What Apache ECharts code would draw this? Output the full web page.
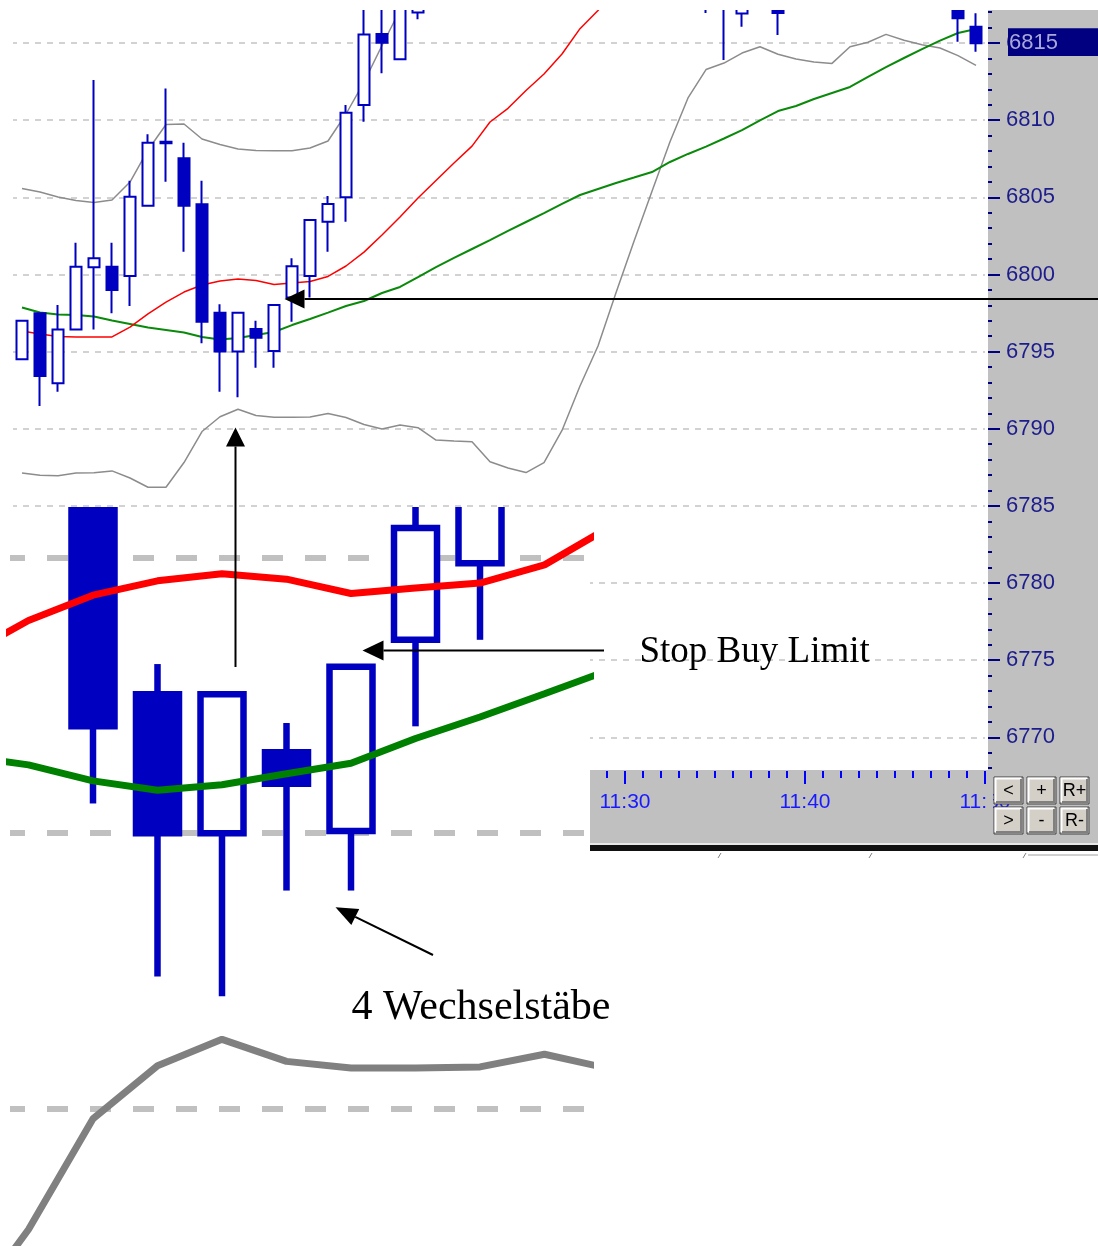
<!DOCTYPE html>
<html>
<head>
<meta charset="utf-8">
<title>Stop Buy Limit - 4 Wechselstäbe</title>
<script src="https://cdn.jsdelivr.net/npm/echarts@6.0.0/dist/echarts.min.js"></script>
<style>
  html, body { margin: 0; padding: 0; background: #ffffff; }
  #chart { width: 1098px; height: 1246px; }
</style>
</head>
<body>
<div id="chart"></div>
<script>
// one-minute bars, named by their closing time
var times = ['10:57', '10:58', '10:59', '11:00', '11:01', '11:02', '11:03', '11:04', '11:05', '11:06',
  '11:07', '11:08', '11:09', '11:10', '11:11', '11:12', '11:13', '11:14', '11:15', '11:16',
  '11:17', '11:18', '11:19', '11:20', '11:21', '11:22', '11:23', '11:24', '11:25', '11:26',
  '11:27', '11:28', '11:29', '11:30', '11:31', '11:32', '11:33', '11:34', '11:35', '11:36',
  '11:37', '11:38', '11:39', '11:40', '11:41', '11:42', '11:43', '11:44', '11:45', '11:46',
  '11:47', '11:48', '11:49', '11:50'];
var timeLabels = ['11:30', '11:40', '11:50'];
var priceLabels = [6770, 6775, 6780, 6785, 6790, 6795, 6800, 6805, 6810, 6815];
var zoomPriceLines = [6790, 6795, 6800];

// OHLC (null = bar lies above the visible price range)
var open = [6794.50, 6797.48, 6792.95, 6796.44, 6800.46, 6800.50, 6799.90, 6804.46, 6808.60, 6807.53,
  6804.55, 6797.52, 6795.00, 6796.47, 6795.04, 6798.51, 6799.90, 6803.42, 6805.00, 6810.98,
  6815.58, 6813.94, 6816.97, null, null, null, null, null, null, null,
  null, null, null, null, null, null, null, null, 6818.00, 6818.60,
  6816.92, null, 6819.00, null, null, null, null, null, null, null,
  null, null, 6818.50, 6816.06];
var close = [6797.00, 6793.42, 6796.44, 6800.50, 6801.05, 6798.99, 6805.04, 6808.54, 6808.50, 6804.46,
  6796.94, 6795.00, 6797.52, 6795.90, 6798.02, 6800.54, 6803.53, 6804.57, 6810.48, 6815.56,
  6815.02, 6818.00, 6819.00, null, null, null, null, null, null, null,
  null, null, null, null, null, null, null, null, 6819.00, 6819.60,
  6819.00, null, 6816.94, null, null, null, null, null, null, null,
  null, null, 6816.60, 6814.98];
var low = [6794.50, 6791.47, 6792.40, 6796.44, 6796.44, 6797.48, 6797.96, 6804.46, 6806.01, 6801.47,
  6795.54, 6792.40, 6792.04, 6793.96, 6793.96, 6796.94, 6798.51, 6801.47, 6803.42, 6809.90,
  6813.04, 6813.94, 6816.54, null, null, null, null, null, null, null,
  null, null, null, null, null, null, null, null, 6816.94, 6813.90,
  6816.06, null, 6815.52, null, null, null, null, null, null, null,
  null, null, 6815.08, 6814.44];
var high = [6797.00, 6797.48, 6798.02, 6802.06, 6812.60, 6802.06, 6806.08, 6809.08, 6812.06, 6808.54,
  6806.08, 6798.07, 6797.52, 6797.00, 6798.02, 6801.05, 6803.53, 6805.08, 6810.98, 6818.00,
  6818.00, 6818.50, 6819.50, null, null, null, null, null, null, null,
  null, null, null, null, null, null, null, null, 6819.50, 6820.00,
  6819.50, null, 6819.50, null, null, null, null, null, null, null,
  null, null, 6819.00, 6816.93];

// indicators
var maFast = [6796.34, 6796.14, 6795.98, 6795.95, 6795.95, 6795.95, 6796.59, 6797.44, 6798.21, 6798.86,
  6799.32, 6799.58, 6799.71, 6799.61, 6799.35, 6799.45, 6799.54, 6799.87, 6800.55, 6801.45,
  6802.56, 6803.72, 6804.95, 6806.09, 6807.22, 6808.32, 6809.88, 6810.77, 6811.92, 6812.99,
  6814.29, 6815.93, 6817.11, 6818.50, null, null, null, null, null, null,
  null, null, null, null, null, null, null, null, null, null,
  null, null, null, null];
var maSlow = [6797.86, 6797.53, 6797.40, 6797.37, 6797.27, 6797.02, 6796.79, 6796.56, 6796.40, 6796.24,
  6795.95, 6795.78, 6795.88, 6796.08, 6796.27, 6796.72, 6797.11, 6797.53, 6797.96, 6798.28,
  6798.80, 6799.19, 6799.83, 6800.48, 6801.07, 6801.65, 6802.23, 6802.82, 6803.40, 6803.98,
  6804.57, 6805.15, 6805.54, 6805.93, 6806.28, 6806.64, 6807.29, 6807.81, 6808.29, 6808.81,
  6809.36, 6809.98, 6810.59, 6810.92, 6811.37, 6811.76, 6812.15, 6812.80, 6813.44, 6814.03,
  6814.61, 6815.16, 6815.65, 6815.91];
var bandUp = [6805.57, 6805.34, 6805.02, 6804.79, 6804.66, 6804.83, 6805.99, 6808.07, 6809.72, 6809.75,
  6808.78, 6808.42, 6808.13, 6808.03, 6808.02, 6808.02, 6808.20, 6808.65, 6810.40, 6812.47,
  6814.84, 6817.14, 6819.40, null, null, null, null, null, null, null,
  null, null, null, null, null, null, null, null, null, null,
  null, null, null, null, null, null, null, null, null, null,
  null, null, null, null];
var bandLow = [6787.13, 6786.98, 6786.96, 6787.13, 6787.15, 6787.27, 6786.81, 6786.21, 6786.21, 6787.81,
  6789.82, 6790.78, 6791.26, 6790.86, 6790.74, 6790.74, 6790.76, 6790.99, 6790.73, 6790.28,
  6789.98, 6790.24, 6790.07, 6789.27, 6789.21, 6789.16, 6787.86, 6787.46, 6787.16, 6787.81,
  6789.89, 6792.77, 6795.36, 6798.81, 6802.15, 6805.40, 6808.60, 6811.44, 6813.28, 6813.70,
  6814.35, 6814.76, 6814.27, 6813.96, 6813.77, 6813.68, 6814.76, 6815.05, 6815.56, 6815.18,
  6814.89, 6814.68, 6814.18, 6813.55];

var buttonLabels = ['<', '+', 'R+', '>', '-', 'R-'];

var blue = '#0000c0';
var sans = '"Liberation Sans", Arial, sans-serif';
var serif = '"Liberation Serif", "Times New Roman", serif';

var candles = open.map(function (o, i) {
  return o === null ? ['-', '-', '-', '-'] : [o, close[i], low[i], high[i]];
});
// same values placed on a value x axis (bar index) for the magnified view
function onValueAxis(arr) {
  return arr.map(function (v, i) { return [i, v === null ? '-' : v]; });
}
var zoomCandles = candles.map(function (c, i) { return [i].concat(c); });

// magnified candles: custom series so the group is clipped to the zoom grid
function renderZoomCandle(params, api) {
  var k = api.value(0), o = api.value(1), c = api.value(2), l = api.value(3), h = api.value(4);
  if (isNaN(o)) return null;
  var x = api.coord([k, o])[0];
  var yO = api.coord([k, o])[1], yC = api.coord([k, c])[1];
  var yL = api.coord([k, l])[1], yH = api.coord([k, h])[1];
  var top = Math.min(yO, yC), bottom = Math.max(yO, yC), w = 43, lw = 6.5;
  return {
    type: 'group',
    children: [
      { type: 'line', shape: { x1: x, y1: yH, x2: x, y2: top }, style: { stroke: blue, lineWidth: lw } },
      { type: 'line', shape: { x1: x, y1: bottom, x2: x, y2: yL }, style: { stroke: blue, lineWidth: lw } },
      { type: 'rect', shape: { x: x - w / 2, y: top, width: w, height: bottom - top },
        style: { fill: c > o ? '#ffffff' : blue, stroke: blue, lineWidth: lw } }
    ]
  };
}

function arrow(x1, y1, x2, y2, head, half) {
  var dx = x2 - x1, dy = y2 - y1, len = Math.sqrt(dx * dx + dy * dy);
  var ux = dx / len, uy = dy / len;
  var bx = x2 - ux * head, by = y2 - uy * head;
  return [
    { type: 'line', z: 10, shape: { x1: x1, y1: y1, x2: bx, y2: by }, style: { stroke: '#000', lineWidth: 2 } },
    { type: 'polygon', z: 10, shape: { points: [[x2, y2], [bx - uy * half, by + ux * half], [bx + uy * half, by - ux * half]] },
      style: { fill: '#000' } }
  ];
}

function button(x, y, label) {
  var w = 29, h = 27;
  return [
    { type: 'rect', z: 10, shape: { x: x, y: y, width: w, height: h }, style: { fill: '#d4d0c8', stroke: '#404040', lineWidth: 1 } },
    { type: 'polyline', z: 11, shape: { points: [[x + 1.5, y + h - 2], [x + 1.5, y + 1.5], [x + w - 2, y + 1.5]] },
      style: { stroke: '#ffffff', lineWidth: 2, fill: null } },
    { type: 'polyline', z: 11, shape: { points: [[x + 2, y + h - 2], [x + w - 2, y + h - 2], [x + w - 2, y + 2]] },
      style: { stroke: '#808080', lineWidth: 2, fill: null } },
    { type: 'text', z: 12, style: { text: label, x: x + w / 2, y: y + h / 2 + 1, align: 'center', verticalAlign: 'middle',
      textAlign: 'center', textVerticalAlign: 'middle', font: '18px ' + sans, fill: '#000' } }
  ];
}

var graphics = [
  // program window: price scale and time scale panels
  { type: 'rect', z: 1, shape: { x: 988, y: 10, width: 110, height: 833 }, style: { fill: '#c0c0c0' } },
  { type: 'rect', z: 1, shape: { x: 590, y: 770, width: 508, height: 73 }, style: { fill: '#c0c0c0' } },
  { type: 'rect', z: 1, shape: { x: 590, y: 843, width: 508, height: 2 }, style: { fill: '#e8e8e8' } },
  { type: 'rect', z: 1, shape: { x: 590, y: 845, width: 508, height: 6 }, style: { fill: '#111111' } },
  { type: 'line', z: 1, shape: { x1: 1028, y1: 855, x2: 1098, y2: 855 }, style: { stroke: '#a0a0a0', lineWidth: 1 } },
  { type: 'line', z: 1, shape: { x1: 718, y1: 858, x2: 721, y2: 853 }, style: { stroke: '#808080', lineWidth: 1 } },
  { type: 'line', z: 1, shape: { x1: 869, y1: 858, x2: 872, y2: 853 }, style: { stroke: '#808080', lineWidth: 1 } },
  { type: 'line', z: 1, shape: { x1: 1023, y1: 858, x2: 1026, y2: 853 }, style: { stroke: '#808080', lineWidth: 1 } },
  { type: 'rect', z: 3, shape: { x: 987, y: 771, width: 6, height: 72 }, style: { fill: '#c0c0c0' } },
  // top margin of the screenshot (bars are cut there)
  { type: 'rect', z: 4, shape: { x: 0, y: 0, width: 1098, height: 10 }, style: { fill: '#ffffff' } },
  // white background of the magnified part
  { type: 'rect', z: 4, shape: { x: 0, y: 507, width: 590, height: 739 }, style: { fill: '#ffffff' } },
  // last price marker
  { type: 'rect', z: 10, shape: { x: 1008, y: 28.3, width: 90, height: 27.7 }, style: { fill: '#000080' } },
  { type: 'text', z: 11, style: { text: '6815', x: 1009, y: 42.5, align: 'left', verticalAlign: 'middle',
    textAlign: 'left', textVerticalAlign: 'middle', font: '22px ' + sans, fill: '#a8a8d8' } },
  // annotations
  { type: 'text', z: 10, style: { text: 'Stop Buy Limit', x: 639.5, y: 652.5, align: 'left', verticalAlign: 'middle',
    textAlign: 'left', textVerticalAlign: 'middle', font: '37px ' + serif, fill: '#000' } },
  { type: 'text', z: 10, style: { text: '4 Wechselstäbe', x: 351.5, y: 1007.5, align: 'left', verticalAlign: 'middle',
    textAlign: 'left', textVerticalAlign: 'middle', font: '42px ' + serif, fill: '#000' } }
];
graphics = graphics
  .concat(arrow(1098, 299, 284.5, 299, 20, 9.5))
  .concat(arrow(235.5, 667, 235.5, 427.5, 19, 9.5))
  .concat(arrow(604, 650.5, 362.5, 650.5, 21, 10))
  .concat(arrow(433, 955, 335.5, 907.3, 22, 9));
var bx = [994, 1027, 1060], by = [777, 807];
buttonLabels.forEach(function (label, i) {
  graphics = graphics.concat(button(bx[i % 3], by[Math.floor(i / 3)], label));
});

var chart = echarts.init(document.getElementById('chart'));
chart.setOption({
  animation: false,
  backgroundColor: '#ffffff',
  grid: [
    { left: 13, top: 10, width: 972, height: 804.5, outerBoundsMode: 'none' },
    { left: 10, top: 507, width: 580, height: 739, outerBoundsMode: 'none' }
  ],
  xAxis: [
    {
      gridIndex: 0, type: 'category', data: times, position: 'bottom', offset: -43.5, z: 2,
      axisLine: { show: false },
      axisTick: { show: true, interval: 0, length: 7, lineStyle: { color: '#0000ff', width: 2 } },
      axisLabel: {
        interval: function (index, value) { return timeLabels.indexOf(value) >= 0; },
        padding: [0, 0, 0, 18], margin: 21, color: '#1a1aff', fontSize: 21, fontFamily: sans
      },
      splitLine: { show: false }
    },
    {
      gridIndex: 0, type: 'category', data: times, position: 'bottom', offset: -43.5, z: 2,
      axisLine: { show: false },
      axisTick: {
        show: true,
        interval: function (index) { return timeLabels.indexOf(times[index - 1]) >= 0; },
        length: 13, lineStyle: { color: '#0000ff', width: 2 }
      },
      axisLabel: { show: false },
      splitLine: { show: false }
    },
    { gridIndex: 1, type: 'value', min: 8.7132, max: 17.7054, show: false }
  ],
  yAxis: [
    {
      gridIndex: 0, type: 'value', position: 'right', offset: 3, min: 6765, max: 6817.14, interval: 5, z: 2,
      axisLine: { show: false },
      axisTick: { show: true, customValues: priceLabels, length: 12, lineStyle: { color: '#000080', width: 2 } },
      minorTick: { show: true, splitNumber: 5, length: 4, lineStyle: { color: '#000080', width: 2 } },
      axisLabel: {
        customValues: priceLabels, margin: 18, padding: [0, 0, 18, 0],
        formatter: function (v) { return String(v); },
        color: '#1c1c8c', fontSize: 22, fontFamily: sans
      },
      splitLine: {
        show: true,
        lineStyle: { color: '#c4c4c4', width: 1.5, type: [6, 6], dashOffset: 2 }
      }
    },
    {
      gridIndex: 1, type: 'value', min: 6787.51, max: 6800.92, splitNumber: 3, z: 5,
      axisLine: { show: false },
      axisTick: { show: false, customValues: zoomPriceLines },
      axisLabel: { show: false, customValues: zoomPriceLines },
      splitLine: {
        show: true,
        lineStyle: { color: '#c0c0c0', width: 6, type: [21, 22], dashOffset: 6 }
      }
    }
  ],
  graphic: graphics,
  series: [
    {
      name: 'Kurs', type: 'candlestick', xAxisIndex: 0, yAxisIndex: 0, z: 3, barWidth: 11, data: candles,
      itemStyle: { color: '#ffffff', color0: blue, borderColor: blue, borderColor0: blue, borderWidth: 2 }
    },
    { name: 'Band oben', type: 'line', xAxisIndex: 0, yAxisIndex: 0, z: 3, data: bandUp, symbol: 'none',
      lineStyle: { color: '#8c8c8c', width: 1.5 } },
    { name: 'Band unten', type: 'line', xAxisIndex: 0, yAxisIndex: 0, z: 3, data: bandLow, symbol: 'none',
      lineStyle: { color: '#8c8c8c', width: 1.5 } },
    { name: 'MA lang', type: 'line', xAxisIndex: 0, yAxisIndex: 0, z: 3, data: maSlow, symbol: 'none',
      lineStyle: { color: '#0a8a0a', width: 2 } },
    { name: 'MA kurz', type: 'line', xAxisIndex: 0, yAxisIndex: 0, z: 3, data: maFast, symbol: 'none',
      lineStyle: { color: '#ff0000', width: 1.5 } },
    // magnified view of the same bars
    {
      name: 'Kurs Lupe', type: 'custom', xAxisIndex: 2, yAxisIndex: 1, z: 6, clip: true,
      data: zoomCandles, encode: { x: 0, y: [1, 2, 3, 4] }, renderItem: renderZoomCandle
    },
    { name: 'Band unten Lupe', type: 'line', xAxisIndex: 2, yAxisIndex: 1, z: 7, data: onValueAxis(bandLow), symbol: 'none',
      lineStyle: { color: '#808080', width: 7 } },
    { name: 'MA lang Lupe', type: 'line', xAxisIndex: 2, yAxisIndex: 1, z: 7, data: onValueAxis(maSlow), symbol: 'none',
      lineStyle: { color: '#008000', width: 7 } },
    { name: 'MA kurz Lupe', type: 'line', xAxisIndex: 2, yAxisIndex: 1, z: 7, data: onValueAxis(maFast), symbol: 'none',
      lineStyle: { color: '#ff0000', width: 7 } }
  ]
});
</script>
</body>
</html>
